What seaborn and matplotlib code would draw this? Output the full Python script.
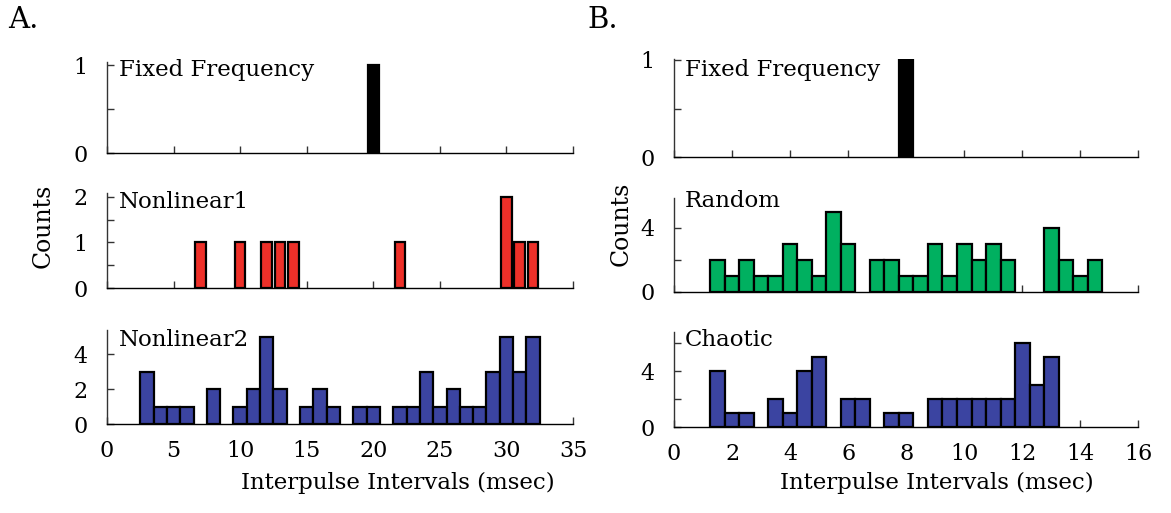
import matplotlib
matplotlib.use("Agg")
import matplotlib.pyplot as plt
import seaborn as sns

# ---------------- data ----------------
# Panel A (msec, bins of 1 msec)
a_fixed_x = [20]
a_fixed_n = [1]
a_nl1_x = [7, 10, 12, 13, 14, 22, 30, 31, 32]
a_nl1_n = [1, 1, 1, 1, 1, 1, 2, 1, 1]
a_nl2_x = [3, 4, 5, 6, 8, 10, 11, 12, 13, 15, 16, 17, 19, 20, 22, 23, 24, 25,
           26, 27, 28, 29, 30, 31, 32]
a_nl2_n = [3, 1, 1, 1, 2, 1, 2, 5, 2, 1, 2, 1, 1, 1, 1, 1, 3, 1,
           2, 1, 1, 3, 5, 3, 5]
# Panel B (msec, bins of 0.5 msec)
b_fixed_x = [8.0]
b_fixed_n = [1]
b_rand_x = [1.5, 2.0, 2.5, 3.0, 3.5, 4.0, 4.5, 5.0, 5.5, 6.0,
            7.0, 7.5, 8.0, 8.5, 9.0, 9.5, 10.0, 10.5, 11.0, 11.5,
            13.0, 13.5, 14.0, 14.5]
b_rand_n = [2, 1, 2, 1, 1, 3, 2, 1, 5, 3,
            2, 2, 1, 1, 3, 1, 3, 2, 3, 2,
            4, 2, 1, 2]
b_chao_x = [1.5, 2.0, 2.5, 3.5, 4.0, 4.5, 5.0, 6.0, 6.5, 7.5, 8.0,
            9.0, 9.5, 10.0, 10.5, 11.0, 11.5, 12.0, 12.5, 13.0]
b_chao_n = [4, 1, 1, 2, 1, 4, 5, 2, 2, 1, 1,
            2, 2, 2, 2, 2, 2, 6, 3, 5]

titles_a = ["Fixed Frequency", "Nonlinear1", "Nonlinear2"]
titles_b = ["Fixed Frequency", "Random", "Chaotic"]
xlabel = "Interpulse Intervals (msec)"
ylabel = "Counts"

# ---------------- style ----------------
sns.set_theme(style="ticks")
plt.rcParams["font.family"] = ["DejaVu Serif", "DejaVu Sans"]
plt.rcParams["axes.linewidth"] = 1.0
plt.rcParams["text.color"] = "black"
plt.rcParams["xtick.labelcolor"] = "black"
plt.rcParams["ytick.labelcolor"] = "black"

W, H = 1171, 513
fig = plt.figure(figsize=(W / 100, H / 100), dpi=100)


def ax_px(l, t, r, b):
    return fig.add_axes([l / W, 1 - b / H, (r - l) / W, (b - t) / H])


def fx(x):
    return x / W


def fy(y):
    return 1 - y / H


FS = 16.5
panels = [
    ((107, 61.7, 573, 153.3), a_fixed_x, a_fixed_n, "black", 1.0, 0.8, 1.04,
     [0, 0.5, 1], ["0", "", "1"], 35, list(range(0, 36, 5)), False, titles_a[0], (119, 76)),
    ((107, 193, 573, 288.3), a_nl1_x, a_nl1_n, "#EE3029", 1.0, 0.8, 2.08,
     [0, 0.5, 1, 1.5, 2], ["0", "", "1", "", "2"], 35, list(range(0, 36, 5)), False, titles_a[1], (119, 208)),
    ((107, 330, 573, 424.3), a_nl2_x, a_nl2_n, "#3B44A1", 1.0, 1.0, 5.4,
     [0, 2, 4], ["0", "2", "4"], 35, list(range(0, 36, 5)), True, titles_a[2], (119, 346)),
    ((674, 59, 1138.4, 157.3), b_fixed_x, b_fixed_n, "black", 0.5, 1.0, 1.01,
     [0, 0.5, 1], ["0", "", "1"], 16, list(range(0, 17, 2)), False, titles_b[0], (685, 76)),
    ((674, 198.3, 1138.4, 291.7), b_rand_x, b_rand_n, "#00B060", 0.5, 1.0, 5.84,
     [0, 2, 4], ["0", "", "4"], 16, list(range(0, 17, 2)), False, titles_b[1], (685, 207)),
    ((674, 331.7, 1138.4, 427.3), b_chao_x, b_chao_n, "#3B44A1", 0.5, 1.0, 6.83,
     [0, 2, 4, 6], ["0", "", "4", ""], 16, list(range(0, 17, 2)), True, titles_b[2], (685, 346)),
]

for (box, xs, ns, col, bw, shr, ytop, yt, yl, xmax, xt, xon, title, tpos) in panels:
    ax = ax_px(*box)
    sns.histplot(x=xs, weights=ns, binwidth=bw,
                 binrange=(min(xs) - bw / 2, max(xs) + bw / 2),
                 color=col, edgecolor="black", linewidth=1.6, alpha=1,
                 shrink=shr, ax=ax)
    for p in list(ax.patches):
        if p.get_height() == 0:
            p.remove()
    ax.set_xlim(0, xmax)
    ax.set_ylim(0, ytop)
    ax.set_xlabel("")
    ax.set_ylabel("")
    ax.set_xticks(xt)
    ax.set_xticklabels([str(v) for v in xt] if xon else [""] * len(xt))
    ax.set_yticks(yt)
    ax.set_yticklabels(yl)
    sns.despine(ax=ax)
    ax.spines["left"].set_color("#333333")
    ax.spines["bottom"].set_color("black")
    ax.tick_params(axis="both", direction="in", length=5, width=1,
                   color="#333333", labelsize=16, labelcolor="black")
    ax.tick_params(axis="y", pad=14)
    ax.tick_params(axis="x", pad=11)
    ax.set_facecolor("none")
    fig.text(fx(tpos[0]), fy(tpos[1]), title, fontsize=FS, va="baseline",
             ha="left", color="black")

# axis labels
fig.text(fx(398), fy(489), xlabel, fontsize=FS, ha="center", va="baseline", color="black")
fig.text(fx(937), fy(489), xlabel, fontsize=FS, ha="center", va="baseline", color="black")
fig.text(fx(43), fy(226), ylabel, fontsize=17, rotation=90, ha="center", va="center", color="black")
fig.text(fx(621), fy(224), ylabel, fontsize=17, rotation=90, ha="center", va="center", color="black")

# panel letters
fig.text(fx(8), fy(28), "A.", fontsize=21, ha="left", va="baseline", color="black")
fig.text(fx(587), fy(28), "B.", fontsize=21, ha="left", va="baseline", color="black")

fig.savefig("out.png", dpi=100, facecolor="white")
